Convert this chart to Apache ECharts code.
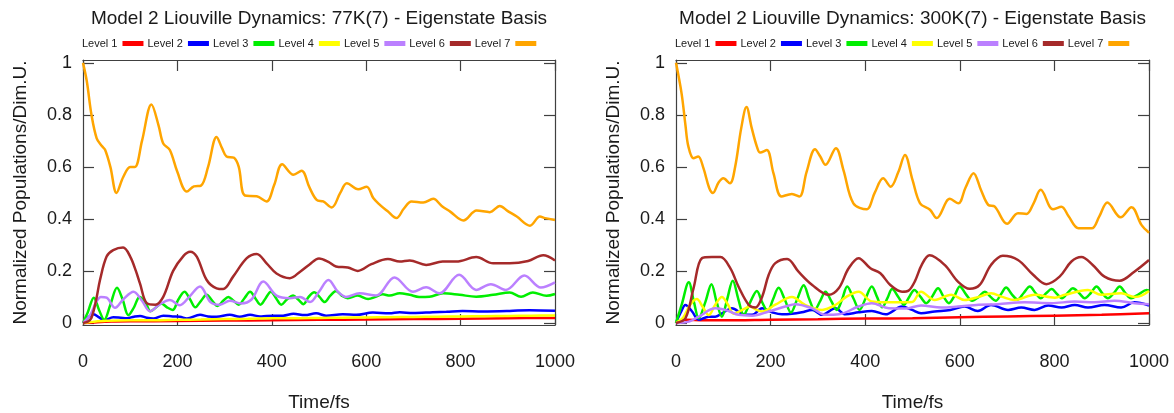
<!DOCTYPE html>
<html><head><meta charset="utf-8">
<script src="https://cdn.jsdelivr.net/npm/echarts@6/dist/echarts.min.js"></script>
<style>html,body{margin:0;padding:0;background:#fff}#c{width:1174px;height:413px}</style>
</head><body><div id="c"></div><script>
const levelNames = ['Level 1','Level 2','Level 3','Level 4','Level 5','Level 6','Level 7'];
const levelColors = ['#ff0000','#0000ff','#00ee00','#ffff00','#bb80ff','#a52a2a','#ffa500'];
const panelTitles = ['Model 2 Liouville Dynamics: 77K(7) - Eigenstate Basis','Model 2 Liouville Dynamics: 300K(7) - Eigenstate Basis'];
const xAxisName = 'Time/fs';
const yAxisName = 'Normalized Populations/Dim.U.';
const yTicks = [0,0.2,0.4,0.6,0.8,1];

// ---- 77K panel ----
const L1_77 = [[0,0],[30,0.003],[60,0.005],[100,0.006],[200,0.007],[300,0.009],[400,0.01],[500,0.012],[600,0.013],[700,0.015],[800,0.016],[900,0.018],[1000,0.019]];
const L2_77 = [[0,0],[10,0.02],[22,0.033],[35,0.02],[45,0.01],[64,0.022],[80,0.02],[93,0.018],[108,0.024],[121,0.027],[135,0.02],[149,0.017],[170,0.028],[190,0.025],[205,0.024],[220,0.017],[248,0.031],[265,0.025],[283,0.024],[311,0.031],[332,0.024],[354,0.031],[375,0.025],[389,0.027],[424,0.028],[446,0.035],[470,0.03],[494,0.037],[515,0.028],[550,0.033],[579,0.031],[614,0.04],[649,0.037],[671,0.041],[699,0.038],[741,0.041],[770,0.043],[804,0.046],[847,0.044],[904,0.046],[946,0.049],[1000,0.047]];
const L3_77 = [[0,0],[10,0.04],[23,0.097],[34,0.05],[45,0.012],[58,0.07],[72,0.135],[84,0.09],[96,0.03],[108,0.06],[120,0.1],[132,0.08],[143,0.045],[155,0.06],[166,0.075],[178,0.06],[190,0.05],[202,0.09],[215,0.12],[227,0.09],[238,0.06],[250,0.085],[262,0.108],[274,0.085],[285,0.065],[297,0.085],[308,0.1],[319,0.085],[330,0.07],[342,0.095],[354,0.12],[365,0.095],[376,0.07],[387,0.095],[398,0.12],[409,0.095],[420,0.07],[432,0.09],[445,0.105],[456,0.09],[467,0.072],[478,0.1],[490,0.118],[501,0.1],[512,0.08],[524,0.105],[536,0.123],[548,0.105],[561,0.095],[582,0.105],[604,0.092],[620,0.1],[635,0.11],[650,0.105],[671,0.114],[692,0.108],[712,0.1],[734,0.101],[763,0.114],[798,0.108],[833,0.101],[869,0.108],[904,0.117],[928,0.101],[953,0.117],[982,0.104],[1000,0.111]];
const L4_77 = [[0,0],[20,0.004],[50,0.008],[100,0.01],[150,0.01],[200,0.012],[250,0.013],[300,0.015],[350,0.016],[400,0.018],[450,0.018],[500,0.019],[550,0.02],[600,0.021],[650,0.022],[700,0.023],[750,0.024],[800,0.025],[850,0.026],[900,0.027],[950,0.028],[1000,0.029]];
const L5_77 = [[0,0],[15,0.03],[28,0.08],[38,0.1],[50,0.097],[68,0.058],[85,0.09],[107,0.12],[125,0.085],[142,0.045],[163,0.072],[184,0.088],[205,0.068],[225,0.1],[248,0.14],[270,0.08],[290,0.07],[311,0.085],[335,0.075],[357,0.09],[382,0.159],[410,0.105],[438,0.095],[460,0.1],[481,0.08],[500,0.12],[520,0.165],[540,0.12],[557,0.1],[586,0.114],[621,0.105],[660,0.175],[699,0.12],[727,0.137],[755,0.114],[797,0.185],[833,0.127],[864,0.149],[896,0.127],[935,0.182],[970,0.136],[1000,0.156]];
const L6_77 = [[0,0],[10,0.005],[18,0.02],[28,0.09],[36,0.165],[50,0.255],[64,0.28],[85,0.29],[100,0.255],[112,0.2],[121,0.15],[135,0.076],[153,0.07],[170,0.1],[191,0.2],[213,0.258],[227,0.274],[241,0.255],[262,0.165],[283,0.133],[297,0.13],[318,0.178],[347,0.249],[368,0.265],[389,0.229],[410,0.19],[438,0.172],[460,0.197],[480,0.225],[500,0.248],[520,0.235],[536,0.217],[561,0.213],[582,0.2],[611,0.226],[646,0.246],[671,0.236],[692,0.24],[727,0.223],[762,0.236],[791,0.236],[833,0.253],[869,0.229],[904,0.229],[943,0.238],[975,0.26],[1000,0.24]];
const L7_77 = [[0,1.0],[8,0.93],[18,0.8],[29,0.71],[40,0.68],[47,0.665],[58,0.6],[71,0.5],[85,0.56],[100,0.6],[110,0.6],[125,0.7],[145,0.84],[160,0.76],[170,0.69],[184,0.665],[200,0.58],[220,0.505],[235,0.525],[250,0.528],[265,0.6],[283,0.715],[295,0.67],[304,0.64],[320,0.635],[330,0.6],[343,0.49],[368,0.487],[389,0.467],[405,0.53],[422,0.61],[446,0.57],[463,0.585],[480,0.52],[495,0.473],[509,0.467],[527,0.444],[545,0.5],[559,0.537],[583,0.514],[601,0.524],[615,0.48],[629,0.454],[645,0.43],[664,0.403],[680,0.44],[696,0.467],[721,0.463],[742,0.477],[760,0.45],[778,0.428],[806,0.394],[834,0.432],[862,0.426],[883,0.45],[900,0.43],[919,0.409],[947,0.374],[968,0.409],[979,0.403],[1000,0.396]];

// ---- 300K panel ----
const L1_300 = [[0,0],[20,0.012],[60,0.01],[100,0.01],[200,0.012],[300,0.014],[400,0.017],[500,0.018],[600,0.022],[700,0.025],[800,0.028],[900,0.031],[1000,0.037]];
const L2_300 = [[0,0],[10,0.04],[20,0.069],[34,0.044],[48,0.012],[69,0.024],[83,0.024],[100,0.04],[118,0.056],[143,0.033],[161,0.031],[182,0.056],[203,0.041],[224,0.033],[245,0.035],[266,0.041],[288,0.05],[309,0.031],[337,0.056],[358,0.033],[386,0.041],[414,0.046],[443,0.033],[478,0.063],[499,0.05],[518,0.037],[547,0.044],[580,0.05],[610,0.063],[638,0.046],[666,0.069],[702,0.05],[730,0.059],[758,0.05],[787,0.067],[815,0.059],[843,0.069],[871,0.059],[906,0.069],[941,0.059],[969,0.079],[1000,0.067]];
const L3_300 = [[0,0],[12,0.07],[27,0.156],[38,0.08],[48,0.018],[62,0.08],[75,0.149],[86,0.08],[97,0.024],[108,0.09],[120,0.162],[132,0.09],[143,0.031],[157,0.08],[171,0.123],[182,0.08],[194,0.045],[205,0.09],[217,0.135],[230,0.09],[243,0.04],[256,0.09],[270,0.145],[282,0.09],[293,0.05],[305,0.085],[316,0.12],[328,0.085],[340,0.05],[351,0.09],[362,0.14],[375,0.095],[388,0.05],[401,0.095],[414,0.14],[425,0.1],[436,0.06],[447,0.095],[457,0.13],[470,0.1],[482,0.07],[493,0.1],[504,0.127],[517,0.1],[529,0.076],[541,0.1],[554,0.133],[566,0.1],[577,0.076],[589,0.105],[600,0.14],[613,0.11],[626,0.085],[640,0.1],[653,0.12],[665,0.1],[676,0.085],[687,0.11],[698,0.136],[710,0.11],[722,0.09],[735,0.115],[748,0.14],[760,0.115],[771,0.095],[783,0.115],[794,0.13],[806,0.11],[816,0.095],[828,0.115],[839,0.133],[852,0.115],[864,0.095],[877,0.115],[889,0.14],[901,0.115],[913,0.095],[926,0.115],[938,0.14],[950,0.115],[962,0.095],[978,0.11],[995,0.127],[1000,0.125]];
const L4_300 = [[0,0],[15,0.02],[30,0.07],[44,0.092],[57,0.06],[69,0.03],[83,0.07],[97,0.1],[110,0.07],[122,0.035],[140,0.05],[157,0.063],[170,0.05],[182,0.044],[210,0.07],[245,0.1],[273,0.069],[309,0.05],[337,0.069],[360,0.1],[386,0.12],[414,0.082],[443,0.079],[478,0.079],[499,0.08],[518,0.12],[547,0.088],[582,0.108],[610,0.088],[640,0.1],[666,0.114],[690,0.1],[716,0.088],[758,0.108],[801,0.097],[822,0.108],[871,0.127],[899,0.108],[941,0.114],[970,0.1],[984,0.105],[1000,0.123]];
const L5_300 = [[0,0],[27,0.005],[48,0.024],[83,0.056],[111,0.046],[132,0.031],[161,0.028],[196,0.044],[231,0.063],[252,0.072],[288,0.056],[316,0.031],[344,0.033],[386,0.063],[414,0.076],[450,0.056],[485,0.055],[518,0.067],[561,0.059],[596,0.063],[640,0.07],[680,0.072],[737,0.079],[794,0.076],[843,0.082],[885,0.079],[927,0.085],[969,0.076],[1000,0.072]];
const L6_300 = [[0,0],[20,0.018],[37,0.133],[55,0.249],[76,0.253],[94,0.253],[115,0.21],[132,0.14],[154,0.069],[168,0.059],[182,0.1],[196,0.185],[210,0.23],[235,0.246],[259,0.197],[288,0.146],[323,0.108],[344,0.133],[365,0.21],[386,0.249],[411,0.21],[432,0.191],[453,0.146],[478,0.12],[492,0.125],[505,0.16],[520,0.225],[536,0.26],[568,0.223],[596,0.159],[621,0.131],[642,0.146],[666,0.223],[691,0.258],[723,0.242],[755,0.185],[783,0.149],[811,0.178],[836,0.236],[857,0.253],[881,0.223],[906,0.178],[938,0.162],[969,0.197],[1000,0.242]];
const L7_300 = [[0,1.0],[12,0.88],[20,0.76],[26,0.68],[37,0.633],[47,0.64],[58,0.595],[70,0.52],[78,0.5],[90,0.54],[100,0.556],[114,0.537],[125,0.6],[138,0.75],[149,0.83],[160,0.75],[171,0.678],[178,0.655],[192,0.665],[206,0.576],[223,0.486],[245,0.496],[261,0.486],[276,0.58],[294,0.668],[305,0.64],[316,0.608],[338,0.672],[354,0.588],[375,0.46],[403,0.437],[420,0.5],[438,0.556],[454,0.524],[470,0.58],[484,0.646],[500,0.55],[516,0.46],[537,0.435],[551,0.403],[579,0.477],[597,0.46],[612,0.52],[629,0.576],[645,0.51],[660,0.454],[674,0.447],[700,0.381],[723,0.422],[741,0.419],[756,0.46],[771,0.512],[797,0.437],[815,0.447],[830,0.41],[851,0.364],[879,0.364],[895,0.41],[912,0.463],[940,0.406],[963,0.445],[984,0.377],[1000,0.347]];

const panels = [
  [L1_77, L2_77, L3_77, L4_77, L5_77, L6_77, L7_77],
  [L1_300, L2_300, L3_300, L4_300, L5_300, L6_300, L7_300]
];

const FONT = 'Liberation Sans, Arial, sans-serif';
const TXT = '#1a1a1a';
const AX = '#404040';
const grids = [
  {left: 83, top: 60, width: 472, height: 265, outerBoundsMode: 'none', containLabel: false},
  {left: 676, top: 60, width: 473, height: 265, outerBoundsMode: 'none', containLabel: false}
];
const plain = v => String(v);
const xAxes = [], yAxes = [], series = [], titles = [], legends = [];
grids.forEach((g, i) => {
  const lineS = {show: true, onZero: false, lineStyle: {color: AX, width: 1.2}};
  const tickS = {show: true, inside: true, length: 11, lineStyle: {color: AX, width: 1.2}};
  xAxes.push({type: 'value', gridIndex: i, min: 0, max: 1000, interval: 200, position: 'bottom',
    axisLine: lineS, axisTick: tickS, splitLine: {show: false},
    axisLabel: {margin: 28, fontSize: 18, fontFamily: FONT, color: TXT, formatter: plain},
    name: xAxisName, nameLocation: 'middle', nameGap: 68,
    nameTextStyle: {fontSize: 19, fontFamily: FONT, color: TXT}});
  xAxes.push({type: 'value', gridIndex: i, min: 0, max: 1000, interval: 200, position: 'top',
    axisLine: lineS, axisTick: tickS, splitLine: {show: false}, axisLabel: {show: false}});
  yAxes.push({type: 'value', gridIndex: i, min: -0.008, max: 1.011, position: 'left',
    axisLine: lineS, axisTick: Object.assign({customValues: yTicks}, tickS), splitLine: {show: false},
    axisLabel: {customValues: yTicks, margin: 11, fontSize: 18, fontFamily: FONT, color: TXT, formatter: plain},
    name: yAxisName, nameLocation: 'middle', nameGap: 53,
    nameTextStyle: {fontSize: 19, fontFamily: FONT, color: TXT}});
  yAxes.push({type: 'value', gridIndex: i, min: -0.008, max: 1.011, position: 'right',
    axisLine: lineS, axisTick: Object.assign({customValues: yTicks}, tickS), splitLine: {show: false},
    axisLabel: {show: false}});
  titles.push({text: panelTitles[i], left: g.left + g.width / 2, top: 9, textAlign: 'center', padding: 0,
    textStyle: {fontSize: 19, fontWeight: 'normal', fontFamily: FONT, color: TXT}});
  legends.push({left: g.left - 1, top: 38, padding: 0, icon: 'rect', itemWidth: 21, itemHeight: 5, itemGap: 4,
    align: 'right', data: levelNames, selectedMode: false,
    textStyle: {fontSize: 11, fontFamily: FONT, color: TXT}});
  panels[i].forEach((d, k) => {
    series.push({type: 'line', name: levelNames[k], xAxisIndex: i * 2, yAxisIndex: i * 2, data: d,
      showSymbol: false, smooth: 0.35, color: levelColors[k],
      lineStyle: {width: 2.5, color: levelColors[k]}});
  });
});

const chart = echarts.init(document.getElementById('c'), null, {renderer: 'canvas'});
chart.setOption({animation: false, backgroundColor: '#fff', title: titles, legend: legends,
  grid: grids, xAxis: xAxes, yAxis: yAxes, series: series});
</script></body></html>
